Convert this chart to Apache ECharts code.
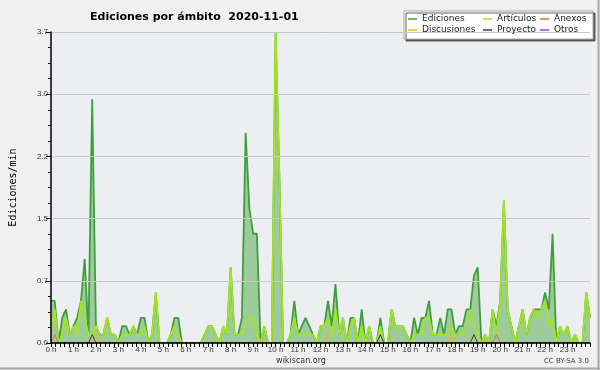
<!DOCTYPE html>
<html><head><meta charset="utf-8">
<script src="https://cdn.jsdelivr.net/npm/echarts@6/dist/echarts.min.js"></script>
<style>html,body{margin:0;padding:0;background:#f0f0f0}#c{width:600px;height:370px}</style>
</head><body><div id="c"></div>
<script>
// one value every 10 minutes, one row per hour (edits per minute)
const ediciones = [
 0.5,0.5,0,0.3,0.4,0.1,
 0.2,0.3,0.5,1.0,0.1,2.9,
 0.2,0.1,0.1,0.3,0.1,0.1,
 0,0.2,0.2,0.1,0.2,0.1,
 0.3,0.3,0,0.1,0.6,0,
 0,0,0.1,0.3,0.3,0,
 0,0,0,0,0,0.1,
 0.2,0.2,0.1,0,0.2,0.1,
 0.9,0.1,0.1,0.3,2.5,1.6,
 1.3,1.3,0,0.2,0,0,
 3.7,2.0,0,0,0.1,0.5,
 0.1,0.2,0.3,0.2,0.1,0,
 0.2,0.2,0.5,0.2,0.7,0.1,
 0.3,0,0.3,0.3,0,0.4,
 0,0.2,0,0,0.3,0,
 0,0.4,0.2,0.2,0.2,0.1,
 0,0.3,0.1,0.3,0.3,0.5,
 0.1,0.1,0.3,0.1,0.4,0.4,
 0.1,0.2,0.2,0.4,0.4,0.8,
 0.9,0,0.1,0,0.4,0.2,
 0.5,1.7,0.4,0.2,0,0.2,
 0.4,0.1,0.3,0.4,0.4,0.4,
 0.6,0.4,1.3,0,0.2,0.1,
 0.2,0,0.1,0,0,0.6,
 0.3
];
const articulos = [
 0.2,0.4,0,0.1,0.3,0.1,
 0.2,0.1,0.5,0.3,0.1,0.1,
 0.2,0.1,0.1,0.3,0.1,0.1,
 0,0.1,0.1,0.1,0.2,0.1,
 0.1,0.2,0,0.1,0.6,0,
 0,0,0.1,0.2,0.1,0,
 0,0,0,0,0,0.1,
 0.2,0.2,0.1,0,0.2,0.1,
 0.9,0.1,0.1,0.1,0.2,0.3,
 0.3,0.1,0,0.2,0,0,
 3.7,2.0,0,0,0.1,0.3,
 0.1,0.1,0.1,0.1,0.1,0,
 0.2,0.2,0.3,0.1,0.4,0.1,
 0.3,0,0.2,0.3,0,0.2,
 0,0.2,0,0,0.2,0,
 0,0.4,0.2,0.2,0.2,0.1,
 0,0.1,0.1,0.1,0.3,0.3,
 0.1,0.1,0.1,0.1,0.1,0.2,
 0.1,0.1,0.1,0.2,0.4,0.2,
 0.1,0,0.1,0,0.4,0.1,
 0.5,1.7,0.4,0.2,0,0.2,
 0.4,0.1,0.3,0.4,0.3,0.4,
 0.5,0.2,0.3,0,0.2,0.1,
 0.2,0,0.1,0,0,0.6,
 0.3
];
const anexos = [
 0,0.1,0,0,0,0, 0,0,0,0,0,0, 0,0,0,0,0,0, 0,0,0,0,0,0,
 0,0,0,0,0,0, 0,0,0,0,0,0, 0,0,0,0,0,0, 0,0,0,0,0,0,
 0,0,0,0,0,0, 0,0,0,0,0,0, 0,0,0,0,0,0, 0,0,0,0,0,0,
 0,0,0,0,0,0, 0,0,0,0,0,0, 0,0,0,0,0,0, 0,0,0,0,0,0,
 0,0,0,0,0,0, 0,0,0,0,0,0, 0,0,0,0,0,0, 0,0,0,0,0,0.1,
 0,0,0,0,0,0, 0,0,0,0,0,0, 0,0,0,0,0,0, 0,0,0,0,0,0,
 0
];
const discusiones = [
 0,0,0,0,0,0, 0,0,0,0,0,0, 0.1,0,0,0,0,0, 0,0,0,0,0,0,
 0,0,0,0,0,0, 0,0,0,0,0,0, 0,0,0,0,0,0, 0,0,0,0,0,0,
 0,0,0,0,0,0, 0,0,0,0,0,0, 0,0,0,0,0,0, 0,0,0,0,0,0,
 0,0,0.1,0,0,0, 0,0,0,0,0,0, 0,0,0,0,0,0, 0,0,0,0,0,0,
 0,0,0,0,0,0, 0,0,0,0,0,0.1, 0,0,0,0,0,0, 0,0,0,0,0,0,
 0,0,0,0,0,0, 0,0,0,0,0,0, 0,0,0,0,0,0, 0,0,0,0,0,0,
 0
];
const proyecto = [
 0,0,0,0,0,0, 0,0,0,0,0,0.1, 0,0,0,0,0,0, 0,0,0,0,0,0,
 0,0,0,0,0,0, 0,0,0,0,0,0, 0,0,0,0,0,0, 0,0,0,0,0,0,
 0,0,0,0,0,0, 0,0,0,0,0,0, 0,0,0,0,0,0, 0,0,0,0,0,0,
 0,0,0,0,0,0, 0,0,0,0,0,0, 0,0,0,0,0,0, 0,0,0,0,0,0,
 0,0,0,0,0,0, 0,0,0,0,0,0, 0,0,0,0,0,0, 0,0,0,0,0,0,
 0,0,0,0,0,0, 0,0,0,0,0,0, 0,0,0,0,0,0, 0,0,0,0,0,0,
 0
];
proyecto[88] = 0.1; proyecto[113] = 0.1;
const otros = [
 0,0,0,0,0,0, 0,0,0,0,0,0, 0,0,0,0,0,0, 0,0,0,0,0,0,
 0,0,0,0,0,0, 0,0,0,0,0,0, 0,0,0,0,0,0, 0,0,0,0,0,0,
 0,0,0,0,0,0, 0,0,0,0,0,0, 0,0,0,0,0,0, 0,0,0,0,0,0,
 0,0,0,0,0,0, 0,0,0,0,0,0, 0,0,0,0,0,0, 0,0,0,0,0,0,
 0,0,0,0,0,0, 0,0,0,0,0,0, 0,0,0,0,0,0, 0,0,0,0,0,0,
 0,0,0,0,0,0, 0,0,0,0,0,0, 0,0,0,0,0,0, 0,0,0,0,0,0,
 0
];
const seriesNames = ['Ediciones','Artículos','Anexos','Discusiones','Proyecto','Otros'];
const colors = ['#3f9f3f','#a4e61c','#f26a2e','#f2b705','#3c3c3c','#8e44e0'];
const titleText = 'Ediciones por ámbito  2020-11-01';
const yName = 'Ediciones/min';
const hourUnit = ' h';

const stepHours = 1/6; // 10-minute bins
const pairs = arr => arr.map((v, i) => [i * stepHours, v]);
const allData = [ediciones, articulos, anexos, discusiones, proyecto, otros];

const chart = echarts.init(document.getElementById('c'));
const legendBase = {
  orient: 'vertical', selectedMode: false, icon: 'rect',
  itemWidth: 9, itemHeight: 1.5, itemGap: 1, top: 14, z: 10, padding: 0,
  textStyle: {fontFamily: 'DejaVu Sans', fontSize: 9, color: '#222', lineHeight: 10}
};
const series = seriesNames.map((n, k) => {
  const s = {
    name: n, type: 'line', data: pairs(allData[k]), symbol: 'none', showSymbol: false,
    lineStyle: {color: colors[k], width: k < 2 ? 1.8 : 1}, itemStyle: {color: colors[k]},
    z: k === 0 ? 2 : (k === 1 ? 3 : 4), animation: false
  };
  if (k === 0) s.areaStyle = {color: '#9ecb9b', opacity: 1};
  return s;
});

chart.setOption({
  backgroundColor: '#f0f0f0',
  animation: false,
  title: {text: titleText, left: 85, top: 7, textStyle: {fontFamily: 'DejaVu Sans', fontSize: 11, fontWeight: 'bold', color: '#000'}},
  grid: {left: 46, right: 10, top: 32, bottom: 27, show: true, backgroundColor: '#eceef1', borderWidth: 0},
  legend: [
    Object.assign({}, legendBase, {data: ['Ediciones','Discusiones'], left: 408}),
    Object.assign({}, legendBase, {data: ['Artículos','Proyecto'], left: 483}),
    Object.assign({}, legendBase, {data: ['Anexos','Otros'], left: 540})
  ],
  xAxis: {
    type: 'value', min: 0, max: 24, interval: 1, z: 10,
    axisLine: {lineStyle: {color: '#000', width: 1.5}},
    axisTick: {show: true, length: 4, lineStyle: {color: '#000'}},
    minorTick: {show: true, splitNumber: 5, length: 4, lineStyle: {color: '#000'}},
    splitLine: {show: false},
    axisLabel: {formatter: v => v < 24 ? v + hourUnit : '', fontSize: 8, fontFamily: 'Liberation Sans', color: '#333', margin: 3}
  },
  yAxis: {
    type: 'value', min: 0, max: 3.7, interval: 0.74, z: 10,
    name: yName, nameLocation: 'middle', nameGap: 33,
    nameTextStyle: {fontFamily: 'DejaVu Sans Mono', fontSize: 10, color: '#000'},
    axisLine: {show: true, lineStyle: {color: '#000', width: 1.5}},
    axisTick: {show: true, length: 5, lineStyle: {color: '#000'}},
    minorTick: {show: true, splitNumber: 4, length: 3, lineStyle: {color: '#000'}},
    splitLine: {show: true, lineStyle: {color: '#c8c8c8'}},
    axisLabel: {formatter: v => v.toFixed(1), fontSize: 8, fontFamily: 'Liberation Sans', color: '#333', margin: 3}
  },
  graphic: [
    {type: 'rect', z: 5, shape: {x: 404, y: 11, width: 189, height: 28},
     style: {fill: '#ffffff', stroke: '#a8a8a8', lineWidth: 1, shadowColor: 'rgba(70,70,70,0.85)', shadowOffsetX: 2, shadowOffsetY: 2, shadowBlur: 0}},
    {type: 'text', z: 5, x: 301, y: 361, style: {text: 'wikiscan.org', fill: '#333', font: '8px "DejaVu Sans"', align: 'center', verticalAlign: 'middle', textAlign: 'center', textVerticalAlign: 'middle'}},
    {type: 'text', z: 5, x: 589, y: 361, style: {text: 'CC BY-SA 3.0', fill: '#444', font: '7px "DejaVu Sans"', align: 'right', verticalAlign: 'middle', textAlign: 'right', textVerticalAlign: 'middle'}},
    {type: 'line', z: 5, shape: {x1: 598.5, y1: 0, x2: 598.5, y2: 370}, style: {stroke: '#a8a8a8', lineWidth: 2}},
    {type: 'line', z: 5, shape: {x1: 0, y1: 368.5, x2: 600, y2: 368.5}, style: {stroke: '#a8a8a8', lineWidth: 2}}
  ],
  series: series
});
</script>
</body></html>
